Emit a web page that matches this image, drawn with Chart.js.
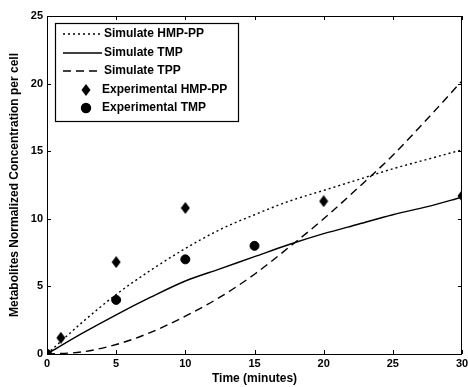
<!DOCTYPE html>
<html>
<head>
<meta charset="utf-8">
<script src="https://cdn.jsdelivr.net/npm/chart.js@4.4.0/dist/chart.umd.min.js"></script>
<style>
  html, body { margin: 0; padding: 0; background: #ffffff; }
  #wrap { width: 468px; height: 387px; position: relative; }
</style>
</head>
<body>
<div id="wrap"><canvas id="metaChart"></canvas></div>
<script>
/* ---------- data ---------- */
var simTime = [0, 2.5, 5, 7.5, 10, 12.5, 15, 17.5, 20, 22.5, 25, 27.5, 30];
var simHmpPP = [0, 2.3, 4.4, 6.2, 7.8, 9.2, 10.3, 11.3, 12.1, 12.9, 13.7, 14.4, 15.1];
var simTmp = [0, 1.5, 2.9, 4.2, 5.4, 6.3, 7.2, 8.1, 8.9, 9.6, 10.3, 10.9, 11.6];
var simTpp = [0, 0.15, 0.7, 1.6, 2.8, 4.2, 5.9, 7.9, 10.0, 12.3, 14.7, 17.4, 20.2];

var expHmpTime = [0, 1, 5, 10, 20, 30];
var expHmpPP = [0, 1.2, 6.8, 10.8, 11.3, 11.7];
var expTmpTime = [0, 5, 10, 15];
var expTmp = [0, 4.0, 7.0, 8.0];

var xTicks = [0, 5, 10, 15, 20, 25, 30];
var yTicks = [0, 5, 10, 15, 20, 25];

var FONT = "'Liberation Sans', Arial, sans-serif";

function pairs(xs, ys) {
  return xs.map(function (x, i) { return { x: x, y: ys[i] }; });
}

/* tall diamond marker, like the printed figure */
function makeDiamond() {
  var c = document.createElement("canvas");
  c.width = 10; c.height = 12;
  var g = c.getContext("2d");
  g.fillStyle = "#000";
  g.beginPath();
  g.moveTo(5, 0); g.lineTo(9.5, 6); g.lineTo(5, 12); g.lineTo(0.5, 6);
  g.closePath();
  g.fill();
  return c;
}
var diamond = makeDiamond();

/* ---------- inward ticks + box, MATLAB style ---------- */
var boxTicks = {
  id: "boxTicks",
  afterDraw: function (chart) {
    var ctx = chart.ctx, a = chart.chartArea;
    var xs = chart.scales.x, ys = chart.scales.y;
    var len = 4;
    ctx.save();
    ctx.strokeStyle = "#000";
    ctx.lineWidth = 1;
    ctx.strokeRect(a.left + 0.5, a.top + 0.5, a.right - a.left - 1, a.bottom - a.top);
    ctx.beginPath();
    xTicks.forEach(function (v) {
      var px = Math.round(xs.getPixelForValue(v)) + 0.5;
      ctx.moveTo(px, a.bottom); ctx.lineTo(px, a.bottom - len);
      ctx.moveTo(px, a.top); ctx.lineTo(px, a.top + len);
    });
    yTicks.forEach(function (v) {
      var py = Math.round(ys.getPixelForValue(v)) + 0.5;
      ctx.moveTo(a.left, py); ctx.lineTo(a.left + len, py);
      ctx.moveTo(a.right, py); ctx.lineTo(a.right - len, py);
    });
    ctx.stroke();
    ctx.restore();
  }
};

/* ---------- boxed legend in the upper left ---------- */
var boxLegend = {
  id: "boxLegend",
  afterDraw: function (chart) {
    var ctx = chart.ctx, a = chart.chartArea;
    var left = a.left + 8, top = a.top + 7, w = 183, h = 98;
    ctx.save();
    ctx.fillStyle = "#fff";
    ctx.fillRect(left, top, w, h);
    ctx.strokeStyle = "#000";
    ctx.lineWidth = 1.2;
    ctx.strokeRect(left + 0.5, top + 0.5, w, h);
    ctx.font = "bold 12px " + FONT;
    ctx.textBaseline = "middle";
    chart.data.datasets.forEach(function (ds, i) {
      var y = Math.round(top + 11 + i * 18.5);
      ctx.strokeStyle = "#000";
      ctx.fillStyle = "#000";
      if (ds.showLine === false) {
        Chart.helpers.drawPoint(ctx, {
          pointStyle: ds.pointStyle,
          radius: ds.pointRadius,
          borderWidth: 1
        }, left + 31, y);
        ctx.fillStyle = "#000";
        ctx.fillText(ds.label, left + 47, y);
      } else {
        ctx.lineWidth = ds.borderWidth;
        ctx.setLineDash(ds.borderDash || []);
        ctx.beginPath();
        ctx.moveTo(left + 8, y);
        ctx.lineTo(left + 47, y);
        ctx.stroke();
        ctx.setLineDash([]);
        ctx.fillText(ds.label, left + 49, y);
      }
    });
    ctx.restore();
  }
};

function lineSet(label, ys, dash) {
  return {
    type: "line",
    label: label,
    data: pairs(simTime, ys),
    borderColor: "#000",
    borderWidth: 1.4,
    borderDash: dash,
    pointRadius: 0,
    fill: false,
    cubicInterpolationMode: "monotone"
  };
}

function pointSet(label, xs, ys, style, r) {
  return {
    type: "scatter",
    label: label,
    data: pairs(xs, ys),
    showLine: false,
    pointStyle: style,
    pointRadius: r,
    pointBackgroundColor: "#000",
    pointBorderColor: "#000",
    borderColor: "#000",
    backgroundColor: "#000"
  };
}

new Chart(document.getElementById("metaChart"), {
  data: {
    datasets: [
      lineSet("Simulate HMP-PP", simHmpPP, [2, 3]),
      lineSet("Simulate TMP", simTmp, []),
      lineSet("Simulate TPP", simTpp, [8, 5]),
      pointSet("Experimental HMP-PP", expHmpTime, expHmpPP, diamond, 5),
      pointSet("Experimental TMP", expTmpTime, expTmp, "circle", 4.5)
    ]
  },
  options: {
    responsive: true,
    maintainAspectRatio: false,
    animation: false,
    layout: { padding: { top: 16, right: 6, left: 0, bottom: 0 } },
    plugins: {
      legend: { display: false },
      tooltip: { enabled: false }
    },
    scales: {
      x: {
        type: "linear",
        min: 0, max: 30,
        afterBuildTicks: function (s) { s.ticks = xTicks.map(function (v) { return { value: v }; }); },
        afterFit: function (s) { s.height = 33; s.paddingLeft = 0; s.paddingRight = 0; },
        grid: { display: false, drawTicks: false },
        border: { display: false },
        ticks: { color: "#000", padding: 3, maxRotation: 0, font: { family: FONT, size: 11, weight: "bold" } },
        title: { display: true, text: "Time (minutes)", color: "#000", padding: { top: 0, bottom: 1 }, font: { family: FONT, size: 12, weight: "bold" } }
      },
      y: {
        type: "linear",
        min: 0, max: 25,
        afterBuildTicks: function (s) { s.ticks = yTicks.map(function (v) { return { value: v }; }); },
        afterFit: function (s) { s.width = 47; s.paddingTop = 0; s.paddingBottom = 0; },
        grid: { display: false, drawTicks: false },
        border: { display: false },
        ticks: { color: "#000", padding: 4, font: { family: FONT, size: 11, weight: "bold" } },
        title: { display: true, text: "Metabolites Normalized Concentration per cell", color: "#000", padding: { top: 7, bottom: 0 }, font: { family: FONT, size: 12, weight: "bold" } }
      }
    }
  },
  plugins: [boxTicks, boxLegend]
});
</script>
</body>
</html>
